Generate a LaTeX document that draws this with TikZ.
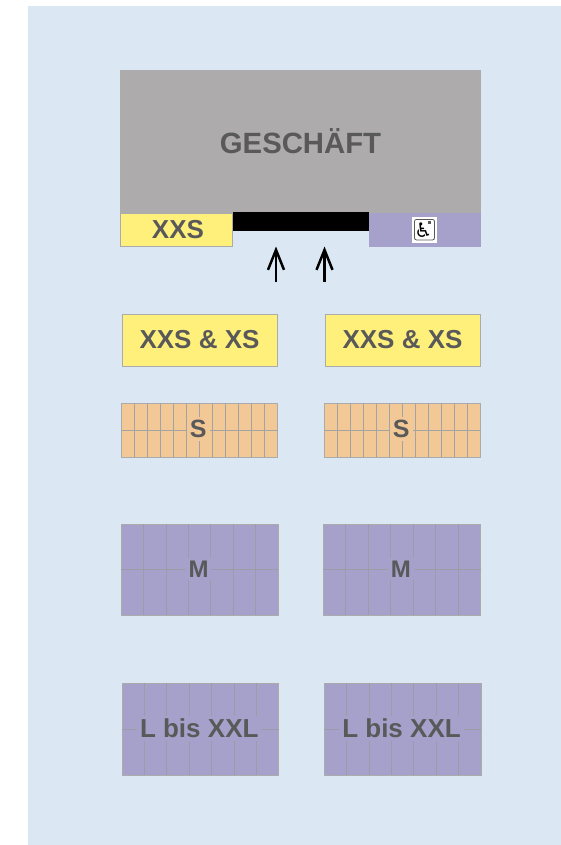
\documentclass[tikz,border=0pt]{standalone}
\usepackage{fontspec}
\setmainfont{Liberation Sans}
\newfontfamily\symfont{DejaVu Sans}
\usetikzlibrary{arrows.meta}
\definecolor{bgblue}{HTML}{DBE8F4}
\definecolor{shopgray}{HTML}{ADABAB}
\definecolor{zoneyellow}{HTML}{FFF07C}
\definecolor{zoneorange}{HTML}{F1C896}
\definecolor{zonepurple}{HTML}{A5A1CB}
\definecolor{labelgray}{HTML}{595959}
\definecolor{edgegray}{HTML}{ABABAB}
\definecolor{gridgray}{HTML}{A3A3A3}
\definecolor{gridsoft}{HTML}{9C9CA8}
\tikzset{
  x=1pt,y=-1pt,
  zone/.style={draw=edgegray,line width=0.8pt,inner sep=0pt,outer sep=0pt},
  zonelabel/.style={text=labelgray,font=\bfseries\fontsize{#1}{#1}\selectfont,inner sep=3pt},
  entryarrow/.style={draw=black,line width=2.5pt,-{Straight Barb[length=20pt,width=16pt,line width=2.5pt]}}
}
% name, left, top, right, bottom, colour, columns, text, font size
\newcommand{\parkingzone}[9]{%
  \path[zone,fill=#6] (#2,#3) rectangle (#4,#5);
  \foreach \i in {1,...,\numexpr#7-1\relax}{
    \draw[draw=\gridcol,line width=\gridwd] ({#2+(#4-#2)*\i/#7},#3) -- ({#2+(#4-#2)*\i/#7},#5);
  }
  \draw[draw=\gridcol,line width=\gridwd] (#2,{(#3+#5)/2}) -- (#4,{(#3+#5)/2});
  \node[zonelabel=#9,fill=#6] (#1) at ({(#2+#4)/2-1},{(#3+#5)/2-0.7}) {#8};
}
\begin{document}
\begin{tikzpicture}
\useasboundingbox (0,0) rectangle (561,845);
\fill[white] (0,0) rectangle (561,845);
\fill[bgblue] (28,6) rectangle (561,845);

% shop
\node[fill=shopgray,inner sep=0pt,outer sep=0pt,minimum width=361pt,minimum height=143pt,anchor=north west] (shop) at (120,70) {};
\node[zonelabel=29.3] (shoplabel) at (300.5,141) {GESCHÄFT};
\node[zone,fill=zoneyellow,minimum width=111.5pt,minimum height=33.5pt,anchor=north west] (xxsbar) at (120.5,213) {};
\node[zonelabel=26] at (178,230) {XXS};
\node[fill=black,inner sep=0pt,minimum width=136pt,minimum height=19pt,anchor=north west] (door) at (232.5,212) {};
\node[fill=zonepurple,inner sep=0pt,minimum width=112.5pt,minimum height=34pt,anchor=north west] (access) at (368.5,213) {};
\node[fill=white,inner sep=0pt,minimum width=25pt,minimum height=26pt] (iconbg) at (424.5,230) {};
\node[draw=labelgray,rounded corners=2pt,line width=0.8pt,inner sep=0pt,minimum width=20pt,minimum height=20.5pt] (iconframe) at (424.5,229.7) {};
\node[inner sep=0pt,text=black] (icon) at (423.3,230.2) {\symfont\fontsize{20}{20}\selectfont ♿};
\node[fill=labelgray,inner sep=0pt,minimum width=3pt,minimum height=3pt] (icondot) at (429.6,222.4) {};

% entry arrows
\coordinate (a1s) at (276,282);
\coordinate (a1e) at (276,246.5);
\coordinate (a2s) at (324.5,282);
\coordinate (a2e) at (324.5,246.5);
\draw[entryarrow] (a1s) -- (a1e);
\draw[entryarrow] (a2s) -- (a2e);

% XXS & XS
\node[zone,fill=zoneyellow,minimum width=155pt,minimum height=52pt,anchor=north west,text=labelgray,font=\bfseries\fontsize{26}{26}\selectfont] (xsl) at (122,314) {XXS \& XS};
\node[zone,fill=zoneyellow,minimum width=155pt,minimum height=52pt,anchor=north west,text=labelgray,font=\bfseries\fontsize{26}{26}\selectfont] (xsr) at (325,314) {XXS \& XS};

% S, M, L bis XXL
\def\gridcol{gridgray}\def\gridwd{0.8pt}
\parkingzone{sl}{121}{403}{277.5}{457}{zoneorange}{12}{S}{25}
\parkingzone{sr}{324}{403}{480.5}{457}{zoneorange}{12}{S}{25}
\def\gridcol{gridsoft}\def\gridwd{0.55pt}
\parkingzone{ml}{121}{524}{278}{615}{zonepurple}{7}{M}{24}
\parkingzone{mr}{323}{524}{480.5}{615}{zonepurple}{7}{M}{24}
\parkingzone{ll}{122}{683}{278.5}{775}{zonepurple}{7}{L bis XXL}{26}
\parkingzone{lr}{324}{683}{481}{775}{zonepurple}{7}{L bis XXL}{26}
\end{tikzpicture}
\end{document}
